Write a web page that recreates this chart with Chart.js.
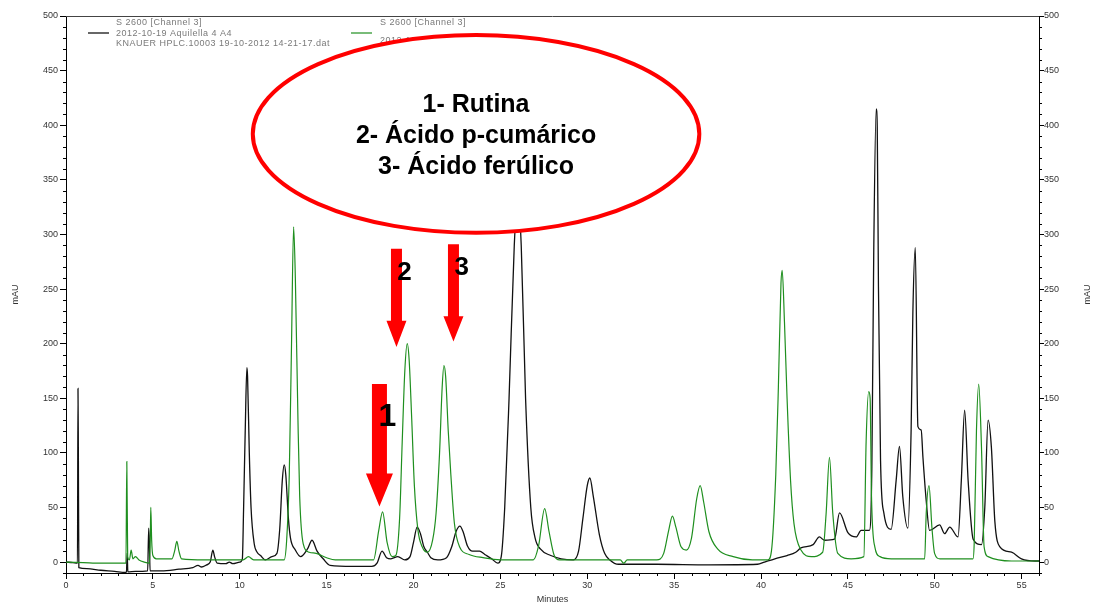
<!DOCTYPE html>
<html>
<head>
<meta charset="utf-8">
<script src="https://cdn.jsdelivr.net/npm/chart.js@4.4.1/dist/chart.umd.min.js"></script>
<style>
  html, body { margin: 0; padding: 0; background: #fff; }
  #chart { display: block; }
</style>
</head>
<body>
<canvas id="chart" width="1099" height="606"></canvas>
<script>
// retention time (min) and absorbance (mAU)
const blackTime = [0, 0.4, 0.66, 0.69, 0.71, 0.74, 1.2, 2.0, 2.8, 3.4, 3.48, 3.52, 3.56, 4.0, 4.7, 4.76, 4.8, 4.84,
  5.5, 6.5, 7.3, 7.6, 7.8, 8.1, 8.3, 8.45, 8.55, 8.7, 9.2, 9.4, 9.6, 10.0, 10.15, 10.22, 10.32, 10.41, 10.45, 10.55,
  10.65, 10.83, 11.0, 11.2, 11.47, 11.85, 12.14, 12.3, 12.45, 12.56, 12.65, 12.8, 12.92, 13.2, 13.5, 13.9, 14.16,
  14.45, 14.8, 15.2, 16.5, 17.6, 17.9, 18.19, 18.45, 18.7, 19.1, 19.5, 19.8, 20.0, 20.21, 20.4, 20.6, 20.8, 21.0,
  21.4, 21.9, 22.2, 22.45, 22.67, 22.85, 23.1, 23.4, 23.8, 24.1, 24.5, 24.85, 25.05, 25.25, 25.5, 25.8, 26.0, 26.2,
  26.45, 26.75, 27.0, 27.3, 27.9, 28.5, 29.2, 29.5, 29.75, 30.0, 30.15, 30.35, 30.7, 31.0, 31.3, 31.8, 34.0, 37.0,
  39.8, 40.2, 40.8, 41.5, 42.0, 42.3, 43.0, 43.36, 43.65, 44.23, 44.52, 45.0, 45.48, 45.76, 46.24, 46.38, 46.49,
  46.63, 46.69, 46.76, 46.88, 47.07, 47.49, 47.78, 47.97, 48.16, 48.45, 48.64, 48.74, 48.88, 49.03, 49.22, 49.32,
  49.51, 49.7, 50.28, 50.57, 50.86, 51.34, 51.53, 51.72, 51.92, 52.21, 52.69, 52.88, 53.07, 53.26, 53.46, 53.75,
  54.42, 54.99, 55.76, 56];
const blackAbs = [0, -0.5, -1, 159, 105, -5, -6, -7.5, -8.5, -9.5, -9, 8, -9, -8.5, -8, 31, 18, -8,
  -8, -6.5, -5, -3, -4.5, -2.5, 0, 11, 5, -1, -1.5, 0, -1.5, 0, 3, 48, 124, 178, 170, 100,
  50, 17, 9, 6, 2, 5, 8, 30, 75, 89, 80, 40, 22, 11, 5, 12, 20,
  10, 3, -3, -4, -4, -1, 10, 4, 3, 5, 2, 5, 18, 32, 26, 14, 9, 4,
  2, 4, 14, 28, 33, 28, 15, 10, 10, 7, 3, -1, 5, 50, 150, 290, 335, 290,
  150, 50, 22, 12, 6, 3, 2, 10, 40, 70, 77, 60, 25, 8, 2, -2, -2, -2.5,
  -2, 0, 3, 6, 9, 13, 16, 23, 20, 21, 45, 27, 23, 29, 29, 87, 286,
  415, 399, 252, 93, 45, 30, 75, 106, 60, 31, 121, 228, 288, 124, 121, 96,
  56, 29, 34, 26, 32, 23, 75, 139, 75, 21, 16, 50, 130, 105, 37, 14,
  9, 3, 1, 1];

const greenTime = [0, 1.0, 2.0, 3.45, 3.5, 3.55, 3.65, 3.75, 3.85, 4.0, 4.2, 4.5, 4.8, 4.85, 4.88, 4.93, 5.0, 5.2,
  6.1, 6.25, 6.38, 6.5, 6.65, 8.0, 10.2, 10.5, 10.8, 12.55, 12.7, 12.85, 12.98, 13.1, 13.2, 13.35, 13.45, 13.65,
  14.0, 14.4, 15.0, 15.5, 17.7, 18.0, 18.22, 18.48, 18.77, 18.98, 19.2, 19.35, 19.5, 19.64, 19.75, 19.9, 20.05,
  20.25, 20.5, 20.8, 21.1, 21.3, 21.5, 21.65, 21.75, 21.85, 22.0, 22.15, 22.35, 22.65, 23.2, 24.0, 25.0, 26.9,
  27.2, 27.55, 27.8, 28.1, 28.4, 31.9, 32.1, 32.3, 34.0, 34.4, 34.7, 34.9, 35.1, 35.4, 35.7, 36.0, 36.3, 36.5,
  36.7, 37.0, 37.5, 38.4, 39.5, 40.4, 40.6, 40.85, 41.0, 41.15, 41.22, 41.35, 41.5, 41.7, 41.9, 42.3, 42.9,
  43.55, 43.75, 43.94, 44.13, 44.42, 45.19, 45.92, 46.05, 46.2, 46.28, 46.36, 46.55, 46.85, 47.5, 49.42, 49.51,
  49.67, 49.84, 49.99, 50.3, 52.2, 52.27, 52.4, 52.53, 52.69, 52.84, 53.07, 54.42, 56];
const greenAbs = [0, -0.5, -1, -1, 92, 5, 2, 11, 3, 5, 2, 0, -1, 20, 50, 20, 6, 3,
  3, 10, 19, 10, 3, 2, 2, 5, 2, 2, 20, 80, 200, 307, 260, 130, 60, 17,
  9, 8, 4, 2, 2, 29, 46, 18, 5, 6, 40, 110, 175, 200, 185, 130, 70,
  30, 14, 9, 20, 45, 100, 160, 180, 170, 120, 80, 36, 14, 7, 4, 2, 2,
  15, 49, 28, 6, 2, 2, -1, 2, 2, 8, 30, 42, 32, 14, 11, 22, 58, 70,
  55, 28, 12, 5, 2, 2, 10, 80, 160, 255, 267, 220, 150, 75, 35, 11, 5,
  9, 45, 96, 45, 8, 3, 5, 110, 156, 150, 60, 14, 5, 3, 3, 45,
  70, 31, 8, 3, 3, 17, 120, 163, 105, 14, 5, 1, 1];

const xTicks = [0, 5, 10, 15, 20, 25, 30, 35, 40, 45, 50, 55];
const yTicks = [0, 50, 100, 150, 200, 250, 300, 350, 400, 450, 500];

const legendBlack = ['S 2600 [Channel 3]', '2012-10-19 Aquilella 4 A4', 'KNAUER HPLC.10003 19-10-2012 14-21-17.dat'];
const legendGreen = ['S 2600 [Channel 3]', '2012-10-19 Padrões A1'];
const compounds = ['1- Rutina', '2- Ácido p-cumárico', '3- Ácido ferúlico'];

// arrows: time they point at, and tail / head base / tip in mAU
const arrowLabel = ['1', '2', '3'];
const arrowTime = [18.04, 19.02, 22.3];
const arrowTail = [163, 287, 291];
const arrowBase = [81, 221, 225];
const arrowTip = [51, 197, 202];

function toPoints(xs, ys) {
  return xs.map((x, i) => ({ x: x, y: ys[i] }));
}

const FONT = '"Liberation Sans", Arial, sans-serif';

const overlay = {
  id: 'overlay',
  afterDraw(chart) {
    const ctx = chart.ctx;
    const a = chart.chartArea;
    const xs = chart.scales.x;
    const ys = chart.scales.y;
    ctx.save();

    // frame top
    ctx.strokeStyle = '#444';
    ctx.lineWidth = 1;
    ctx.beginPath();
    ctx.moveTo(a.left, a.top + 0.5);
    ctx.lineTo(a.right, a.top + 0.5);
    ctx.stroke();

    // minor ticks
    ctx.strokeStyle = '#000';
    ctx.beginPath();
    for (let m = 0; m <= 56; m++) {
      if (m % 5 === 0) continue;
      const px = Math.round(xs.getPixelForValue(m)) + 0.5;
      ctx.moveTo(px, a.bottom);
      ctx.lineTo(px, a.bottom + 3);
    }
    for (let v = -10; v <= 500; v += 10) {
      if (v % 50 === 0) continue;
      const py = Math.round(ys.getPixelForValue(v)) + 0.5;
      ctx.moveTo(a.left - 3, py);
      ctx.lineTo(a.left, py);
      ctx.moveTo(a.right, py);
      ctx.lineTo(a.right + 3, py);
    }
    ctx.stroke();

    // right axis title
    ctx.fillStyle = '#333';
    ctx.font = '9px ' + FONT;
    ctx.textAlign = 'center';
    ctx.textBaseline = 'middle';
    ctx.save();
    ctx.translate(1088, (a.top + a.bottom) / 2);
    ctx.rotate(-Math.PI / 2);
    ctx.fillText('mAU', 0, 0);
    ctx.restore();

    // legend
    ctx.save();
    ctx.textAlign = 'left';
    ctx.font = '9px ' + FONT;
    ctx.letterSpacing = '0.5px';
    ctx.fillStyle = '#7a7a7a';
    ctx.lineWidth = 1.2;
    ctx.strokeStyle = '#000';
    ctx.beginPath();
    ctx.moveTo(a.left + 22, a.top + 17);
    ctx.lineTo(a.left + 43, a.top + 17);
    ctx.stroke();
    legendBlack.forEach((t, i) => ctx.fillText(t, a.left + 50, a.top + 7 + i * 10.5));
    ctx.strokeStyle = '#1f8f1f';
    ctx.beginPath();
    ctx.moveTo(a.left + 285, a.top + 17);
    ctx.lineTo(a.left + 306, a.top + 17);
    ctx.stroke();
    legendGreen.forEach((t, i) => ctx.fillText(t, a.left + 314, a.top + 7 + i * 18));
    ctx.restore();

    // ellipse with the compound list
    const cx = xs.getPixelForValue(23.6);
    const cy = ys.getPixelForValue(392);
    const rx = xs.getPixelForValue(36.45) - cx;
    const ry = cy - ys.getPixelForValue(482.5);
    ctx.beginPath();
    ctx.ellipse(cx, cy, rx, ry, 0, 0, Math.PI * 2);
    ctx.fillStyle = '#fff';
    ctx.fill();
    ctx.lineWidth = 4;
    ctx.strokeStyle = '#ff0000';
    ctx.stroke();
    ctx.fillStyle = '#000';
    ctx.font = 'bold 25px ' + FONT;
    ctx.textAlign = 'center';
    compounds.forEach((t, i) => ctx.fillText(t, cx, cy - 29 + i * 31));

    // red arrows
    ctx.fillStyle = '#ff0000';
    arrowTime.forEach((t, i) => {
      const px = xs.getPixelForValue(t);
      const sw = i === 0 ? 7.5 : 5.5;
      const hw = i === 0 ? 13.5 : 10;
      const y0 = ys.getPixelForValue(arrowTail[i]);
      const y1 = ys.getPixelForValue(arrowBase[i]);
      const y2 = ys.getPixelForValue(arrowTip[i]);
      ctx.beginPath();
      ctx.moveTo(px - sw, y0);
      ctx.lineTo(px + sw, y0);
      ctx.lineTo(px + sw, y1);
      ctx.lineTo(px + hw, y1);
      ctx.lineTo(px, y2);
      ctx.lineTo(px - hw, y1);
      ctx.lineTo(px - sw, y1);
      ctx.closePath();
      ctx.fill();
    });
    ctx.fillStyle = '#000';
    ctx.font = 'bold 32px ' + FONT;
    ctx.fillText(arrowLabel[0], xs.getPixelForValue(18.5), ys.getPixelForValue(133));
    ctx.font = 'bold 26px ' + FONT;
    ctx.fillText(arrowLabel[1], xs.getPixelForValue(19.48), ys.getPixelForValue(265));
    ctx.fillText(arrowLabel[2], xs.getPixelForValue(22.77), ys.getPixelForValue(269));

    ctx.restore();
  }
};

const tickFont = { family: FONT, size: 9 };

new Chart(document.getElementById('chart'), {
  type: 'line',
  data: {
    datasets: [
      {
        data: toPoints(greenTime, greenAbs),
        borderColor: '#1f8f1f',
        borderWidth: 1.2,
        pointRadius: 0,
        cubicInterpolationMode: 'monotone',
        yAxisID: 'y'
      },
      {
        data: toPoints(blackTime, blackAbs),
        borderColor: '#111',
        borderWidth: 1.3,
        pointRadius: 0,
        cubicInterpolationMode: 'monotone',
        yAxisID: 'y'
      }
    ]
  },
  options: {
    responsive: false,
    animation: false,
    events: [],
    layout: { padding: { top: 16, left: 0, right: 0, bottom: 0 } },
    plugins: { legend: { display: false }, tooltip: { enabled: false } },
    scales: {
      x: {
        type: 'linear',
        min: 0,
        max: 56,
        afterBuildTicks: s => { s.ticks = xTicks.map(v => ({ value: v })); },
        afterFit: s => { s.height = 33; },
        grid: { drawOnChartArea: false, tickLength: 6, color: '#000' },
        border: { color: '#000' },
        ticks: { font: tickFont, color: '#333', padding: 1, maxRotation: 0 },
        title: { display: true, text: 'Minutes', font: tickFont, color: '#333', padding: { top: 0, bottom: 1 } }
      },
      y: {
        position: 'left',
        min: -10,
        max: 500,
        afterBuildTicks: s => { s.ticks = yTicks.map(v => ({ value: v })); },
        afterFit: s => { s.width = 66; },
        grid: { drawOnChartArea: false, tickLength: 6, color: '#000' },
        border: { color: '#000' },
        ticks: { font: tickFont, color: '#333', padding: 2 },
        title: { display: true, text: 'mAU', font: tickFont, color: '#333', padding: { top: 10, bottom: 0 } }
      },
      y2: {
        position: 'right',
        min: -10,
        max: 500,
        afterBuildTicks: s => { s.ticks = yTicks.map(v => ({ value: v })); },
        afterFit: s => { s.width = 60; },
        grid: { drawOnChartArea: false, tickLength: 5, color: '#000' },
        border: { color: '#000' },
        ticks: { font: tickFont, color: '#333', padding: 0 }
      }
    }
  },
  plugins: [overlay]
});
</script>
</body>
</html>
